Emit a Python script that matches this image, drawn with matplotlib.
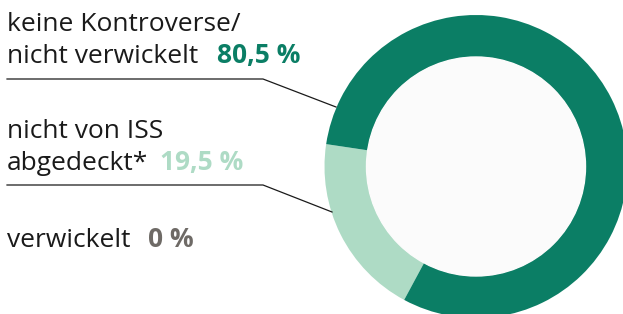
import matplotlib.pyplot as plt
from matplotlib.patches import Circle

# data
labels = ['keine Kontroverse/\nnicht verwickelt', 'nicht von ISS\nabgedeckt*', 'verwickelt']
values = [80.5, 19.5, 0.0]
value_labels = ['80,5 %', '19,5 %', '0 %']
colors = ['#0b7e65', '#aedbc5', '#6e6a66']

plt.rcParams['font.family'] = ['Open Sans', 'DejaVu Sans']

fig = plt.figure(figsize=(6.23, 3.14), dpi=100)
ax = fig.add_axes([0, 0, 1, 1])
H = 314

# donut: light segment first, then dark
cx, cy = 476, H - 166.5
R, r_in = 151.5, 109.5
ax.pie([values[1], values[0]], colors=[colors[1], colors[0]], radius=R,
       center=(cx, cy), startangle=171.5, counterclock=True,
       wedgeprops=dict(width=R - r_in, linewidth=0), frame=True)
ax.add_patch(Circle((cx, cy), r_in, color='#fbfbfb', zorder=3))

# labels
fs = 19
ax.text(7, H - 31, 'keine Kontroverse/', fontsize=fs, color='#1a1a1a', va='baseline')
t = ax.text(7, H - 63, 'nicht verwickelt', fontsize=fs, color='#1a1a1a', va='baseline')
ax.text(217, H - 63, value_labels[0], fontsize=fs, color=colors[0], fontweight='bold', va='baseline')

ax.text(7, H - 138, 'nicht von ISS', fontsize=fs, color='#1a1a1a', va='baseline')
ax.text(7, H - 170, 'abgedeckt*', fontsize=fs, color='#1a1a1a', va='baseline')
ax.text(160, H - 170, value_labels[1], fontsize=fs, color=colors[1], fontweight='bold', va='baseline')

ax.text(7, H - 247, 'verwickelt', fontsize=fs, color='#1a1a1a', va='baseline')
ax.text(148, H - 247, value_labels[2], fontsize=fs, color=colors[2], fontweight='bold', va='baseline')

# leader lines
ax.plot([7, 263, 336], [H - 79, H - 79, H - 107], color='#1a1a1a', lw=0.9)
ax.plot([7, 263, 332], [H - 185, H - 185, H - 212], color='#1a1a1a', lw=0.9)

ax.set_xlim(0, 623)
ax.set_ylim(0, H)
ax.axis('off')

fig.savefig('out.png', dpi=100, facecolor='white')
